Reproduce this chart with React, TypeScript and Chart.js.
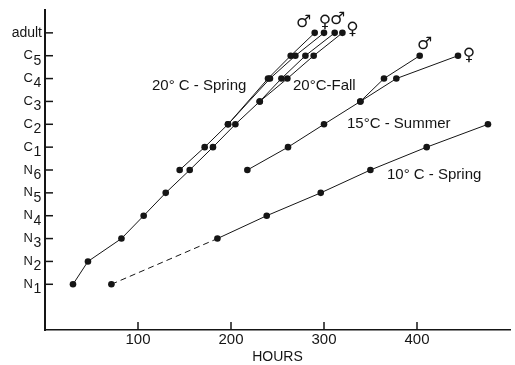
import React, { useEffect, useRef } from 'react';
import { Chart, registerables } from 'chart.js';

Chart.register(...registerables);

// ---- Data ----
const stageLabels = ['N1', 'N2', 'N3', 'N4', 'N5', 'N6', 'C1', 'C2', 'C3', 'C4', 'C5', 'adult'];
const xTickValues = [100, 200, 300, 400];
const xAxisTitle = 'HOURS';

const spring20MaleHours = [144.8, 171.7, 196.8, 239.8, 264.2, 290.0];
const spring20MaleStages = [6, 7, 8, 10, 11, 12];
const spring20FemaleHours = [196.8, 241.9, 269.2, 300.0];
const spring20FemaleStages = [8, 10, 11, 12];
const fall20MaleHours = [30.1, 46.2, 82.2, 106.1, 129.8, 155.6, 180.6, 204.7, 230.9, 254.2, 280.0, 311.5];
const fall20MaleStages = [1, 2, 3, 4, 5, 6, 7, 8, 9, 10, 11, 12];
const fall20FemaleHours = [230.9, 260.6, 288.9, 319.8];
const fall20FemaleStages = [9, 10, 11, 12];
const summer15MaleHours = [217.6, 261.3, 300.0, 339.1, 364.5, 402.9];
const summer15MaleStages = [6, 7, 8, 9, 10, 11];
const summer15FemaleHours = [339.1, 377.8, 444.1];
const summer15FemaleStages = [9, 10, 11];
const spring10Hours = [71.4, 185.4, 238.4, 296.5, 349.9, 410.4, 476.3];
const spring10Stages = [1, 3, 4, 5, 6, 7, 8];

const curveLabels = ['20° C - Spring', '20°C-Fall', '15°C - Summer', '10° C - Spring'];
const sexSymbols = ['♂', '♀', '♂', '♀', '♂', '♀'];

const toXY = (hours: number[], stages: number[]) => hours.map((h, i) => ({ x: h, y: stages[i] }));

const INK = '#151515';
const FONT = '"Liberation Sans", Arial, sans-serif';

// label placement (pixels) and sex-symbol offsets from each branch's last point
const curveLabelPos = [
  { x: 152, y: 90 },
  { x: 293, y: 90 },
  { x: 347, y: 128 },
  { x: 387, y: 179 },
];
const symbolPlacement = [
  { ds: 0, dx: -11, dy: -10 },
  { ds: 1, dx: 1, dy: -10 },
  { ds: 2, dx: 3, dy: -13 },
  { ds: 3, dx: 10, dy: -3 },
  { ds: 4, dx: 5, dy: -11 },
  { ds: 5, dx: 11, dy: 0 },
];

const overlay = {
  id: 'overlay',
  afterDraw(chart: any) {
    const { ctx, chartArea } = chart;
    const x = chart.scales.x;
    const y = chart.scales.y;
    ctx.save();
    ctx.strokeStyle = INK;
    ctx.fillStyle = INK;
    ctx.lineWidth = 1.5;
    // y tick marks (inward) and subscripted stage labels
    stageLabels.forEach((lab, i) => {
      const py = y.getPixelForValue(i + 1);
      ctx.beginPath();
      ctx.moveTo(chartArea.left, py);
      ctx.lineTo(chartArea.left + 8, py);
      ctx.stroke();
      ctx.textBaseline = 'middle';
      if (lab.length > 2) {
        ctx.font = `14px ${FONT}`;
        ctx.textAlign = 'right';
        ctx.fillText(lab, 42, py);
      } else {
        ctx.font = `13px ${FONT}`;
        ctx.textAlign = 'right';
        ctx.fillText(lab[0], 33, py);
        ctx.font = `14px ${FONT}`;
        ctx.textAlign = 'left';
        ctx.fillText(lab.slice(1), 33.5, py + 5);
      }
    });
    // x tick marks (inward)
    xTickValues.forEach((v) => {
      const px = x.getPixelForValue(v);
      ctx.beginPath();
      ctx.moveTo(px, chartArea.bottom);
      ctx.lineTo(px, chartArea.bottom - 8);
      ctx.stroke();
    });
    // curve labels
    ctx.font = `15px ${FONT}`;
    ctx.textAlign = 'left';
    ctx.textBaseline = 'alphabetic';
    curveLabels.forEach((t, i) => ctx.fillText(t, curveLabelPos[i].x, curveLabelPos[i].y));
    // sex symbols
    ctx.font = '17px "DejaVu Sans"';
    ctx.textAlign = 'center';
    ctx.textBaseline = 'middle';
    symbolPlacement.forEach((s, i) => {
      const meta = chart.getDatasetMeta(s.ds);
      const pt = meta.data[meta.data.length - 1];
      ctx.fillText(sexSymbols[i], pt.x + s.dx, pt.y + s.dy);
    });
    ctx.restore();
  },
};

const line = (data: any[], extra: any = {}) => ({
  data,
  borderColor: INK,
  backgroundColor: INK,
  borderWidth: 1,
  pointRadius: 3.3,
  pointBackgroundColor: INK,
  pointBorderWidth: 0,
  tension: 0,
  ...extra,
});

export default function App() {
  const ref = useRef<HTMLCanvasElement>(null);
  useEffect(() => {
    if (!ref.current) return;
    const chart = new Chart(ref.current, {
      type: 'line',
      data: {
        datasets: [
          line(toXY(spring20MaleHours, spring20MaleStages)),
          line(toXY(spring20FemaleHours, spring20FemaleStages)),
          line(toXY(fall20MaleHours, fall20MaleStages)),
          line(toXY(fall20FemaleHours, fall20FemaleStages)),
          line(toXY(summer15MaleHours, summer15MaleStages)),
          line(toXY(summer15FemaleHours, summer15FemaleStages)),
          line(toXY(spring10Hours, spring10Stages), {
            segment: { borderDash: (c: any) => (c.p0DataIndex === 0 ? [6, 4] : undefined) },
          }),
        ],
      },
      options: {
        animation: false,
        responsive: false,
        layout: { padding: { top: 10, right: 5, left: 0, bottom: 0 } },
        plugins: { legend: { display: false }, tooltip: { enabled: false } },
        scales: {
          x: {
            type: 'linear',
            min: 0,
            max: 500,
            afterFit: (s: any) => { s.height = 35; },
            grid: { display: false, drawTicks: false },
            border: { display: true, color: INK, width: 1.5 },
            ticks: {
              stepSize: 100,
              padding: 1,
              color: INK,
              font: { family: FONT, size: 15 },
              callback: (v: any) => (xTickValues.includes(v) ? String(v) : ''),
            },
            title: {
              display: true,
              text: xAxisTitle,
              color: INK,
              font: { family: FONT, size: 14 },
              padding: { top: 0, bottom: -1 },
            },
          },
          y: {
            type: 'linear',
            min: -1,
            max: 13,
            afterFit: (s: any) => { s.width = 45; },
            grid: { display: false, drawTicks: false },
            border: { display: true, color: INK, width: 2 },
            ticks: { display: false, stepSize: 1 },
          },
        },
      },
      plugins: [overlay],
    });
    return () => chart.destroy();
  }, []);
  return (
    <div style={{ position: 'absolute', left: 0, top: 0, width: 515, height: 365, background: '#fff' }}>
      <canvas ref={ref} width={515} height={365} />
    </div>
  );
}
